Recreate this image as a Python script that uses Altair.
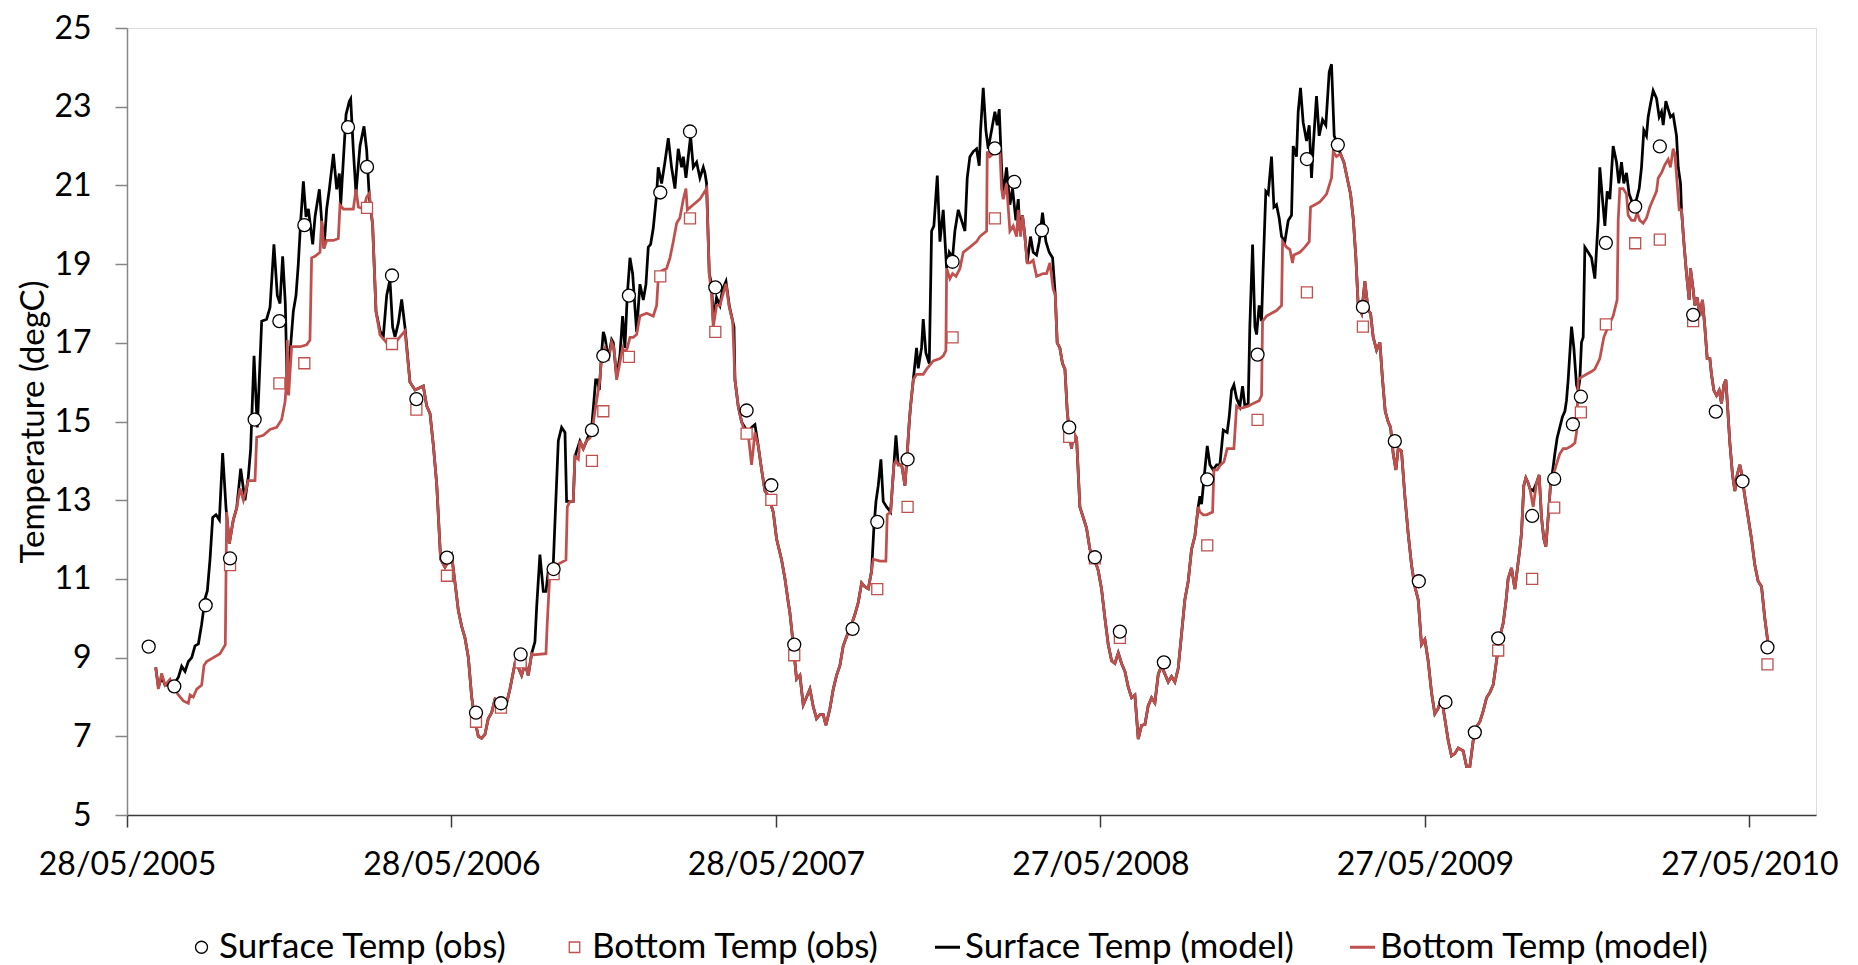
import altair as alt
import pandas as pd

SERIES = ["Surface Temp (obs)", "Bottom Temp (obs)", "Surface Temp (model)", "Bottom Temp (model)"]
COLORS = ["#000000", "#C0504D", "#000000", "#C0504D"]
SHAPES = ["circle", "square", "stroke", "stroke"]
LEGEND_SIZES = [144, 110, 625, 625]
LEGEND_STROKES = [1.3, 1.3, 3, 3]

X_TICK_DAYS = [0, 365, 730, 1095, 1460, 1825]
X_TICK_LABELS = ["28/05/2005", "28/05/2006", "28/05/2007", "27/05/2008", "27/05/2009", "27/05/2010"]
Y_TICKS = [5, 7, 9, 11, 13, 15, 17, 19, 21, 23, 25]

# x values are days after 28/05/2005, y values are degC

# ---- model segments where surface and bottom traces differ ----
surf_y1 = [(32.3, 8.75), (35.3, 8.25), (39.0, 8.5), (42.8, 8.3), (52.1, 8.3), (57.8, 8.5), (61.5, 8.78),
           (65.3, 8.65), (69.0, 8.9), (72.8, 9.0), (76.5, 9.3), (80.3, 9.35), (84.0, 9.85), (87.8, 10.5),
           (90.4, 10.7), (93.4, 11.5), (96.4, 12.56), (100.1, 12.63), (103.9, 12.5), (107.6, 14.2),
           (111.4, 12.8), (115.1, 11.9), (119.6, 12.5), (123.4, 12.8), (127.9, 13.8), (132.7, 13.0),
           (136.5, 13.6), (139.1, 14.3), (142.9, 16.67), (146.6, 14.85), (151.5, 17.55), (157.1, 17.6),
           (160.9, 17.9), (165.3, 19.5), (169.1, 18.2), (172.1, 18.0), (175.1, 19.2), (178.1, 18.0),
           (180.3, 15.7), (183.3, 16.7), (187.1, 17.8), (190.1, 18.2), (192.7, 19.0), (195.4, 20.1),
           (198.4, 21.1), (201.4, 20.2), (204.0, 20.4), (208.9, 19.5), (211.5, 20.2), (216.4, 20.9),
           (219.0, 20.1), (221.6, 19.4), (224.6, 20.4), (227.6, 20.9), (232.2, 21.8), (235.9, 20.9),
           (238.9, 21.3), (240.4, 20.5), (246.4, 22.8), (250.1, 23.14), (251.6, 23.2), (254.6, 21.9),
           (257.6, 20.8), (262.1, 22.0), (266.6, 22.5), (269.6, 21.9), (272.6, 20.7), (276.3, 20.0),
           (280.1, 17.8), (284.6, 17.3), (288.3, 17.15), (292.1, 18.2), (295.8, 18.6), (298.8, 17.4),
           (301.5, 17.15), (305.2, 17.5), (309.0, 18.1), (312.7, 17.4)]
bott_y1 = [(32.3, 8.75), (35.3, 8.2), (39.0, 8.6), (42.8, 8.3), (48.4, 8.45), (52.1, 8.25), (57.8, 8.05),
           (63.4, 7.9), (69.0, 7.84), (70.9, 8.05), (74.6, 8.0), (78.4, 8.2), (84.0, 8.3), (86.6, 8.8),
           (89.6, 8.9), (97.1, 9.0), (104.6, 9.1), (110.6, 9.33), (112.1, 12.7), (115.1, 11.9),
           (119.6, 12.5), (123.4, 12.8), (127.1, 13.3), (130.9, 13.0), (136.5, 13.5), (144.0, 13.5),
           (145.9, 14.6), (153.4, 14.65), (160.9, 14.8), (168.4, 14.85), (174.0, 15.05), (177.8, 15.5),
           (179.6, 16.06), (180.3, 17.07), (181.8, 15.66), (185.2, 16.9), (194.6, 16.9), (202.1, 16.95),
           (205.8, 17.07), (207.7, 19.16), (211.5, 19.2), (217.1, 19.3), (219.0, 20.1), (221.6, 19.4),
           (224.6, 19.6), (232.2, 19.6), (237.7, 19.65), (239.6, 20.5), (243.4, 20.4), (250.9, 20.4),
           (254.6, 20.4), (257.6, 20.9), (260.3, 20.45), (266.0, 20.4), (269.6, 20.7), (272.6, 20.8),
           (276.3, 20.0), (280.1, 17.8), (284.6, 17.2), (292.1, 17.0), (298.8, 16.9), (305.2, 17.1),
           (309.0, 17.2), (312.7, 17.3)]

surf_y2 = [(458.9, 9.4), (460.8, 10.27), (464.5, 11.62), (468.3, 10.68), (471.3, 10.68), (473.9, 11.21),
           (479.5, 11.35), (481.4, 12.43), (485.2, 14.51), (488.9, 14.85), (492.7, 14.72), (494.5, 12.97),
           (498.3, 12.97), (502.0, 12.97), (503.9, 14.11), (509.5, 14.5), (513.3, 14.31), (517.0, 14.51),
           (522.7, 14.85), (525.3, 15.53), (527.2, 16.06), (529.0, 16.06), (531.3, 15.8), (533.9, 16.74),
           (535.8, 17.28), (537.7, 17.14), (541.4, 16.6), (545.2, 17.08), (547.0, 17.01), (550.8, 16.13),
           (554.5, 16.67), (557.5, 17.68), (560.1, 16.87), (562.8, 18.22), (565.8, 19.16), (568.8, 18.76),
           (573.3, 17.28), (577.0, 18.49), (580.8, 18.09), (583.8, 18.49), (586.4, 19.43), (589.0, 19.5),
           (592.0, 19.91), (595.8, 20.78), (597.6, 21.46), (601.4, 21.05), (605.1, 21.59), (608.9, 22.2),
           (612.6, 21.46), (616.4, 20.92), (620.1, 21.93), (623.9, 21.46), (625.8, 21.73), (628.8, 21.19),
           (631.4, 21.73), (634.0, 22.26), (637.0, 21.46), (640.8, 21.59), (644.5, 21.19), (648.3, 21.46),
           (650.1, 21.32), (652.0, 21.05), (655.0, 18.76), (657.6, 18.49), (659.5, 17.55), (663.2, 18.15),
           (667.0, 17.95), (670.0, 18.36), (673.8, 18.56), (677.5, 17.95), (681.3, 17.55), (682.8, 17.41),
           (683.9, 16.06), (687.6, 15.39), (691.4, 14.99), (695.1, 14.85), (698.9, 14.72), (702.6, 14.85),
           (706.4, 14.92), (710.1, 14.38)]
bott_y2 = [(457.0, 9.07), (471.3, 9.1), (472.8, 9.9), (475.8, 11.2), (483.3, 11.35), (493.8, 11.48),
           (495.3, 12.83), (498.3, 12.97), (502.0, 12.97), (503.9, 14.11), (507.7, 14.04), (509.5, 14.51),
           (513.3, 14.31), (517.0, 14.51), (520.8, 14.58), (523.8, 14.85), (526.4, 15.26), (528.3, 15.53),
           (532.0, 16.06), (533.9, 16.67), (537.7, 16.87), (541.4, 16.54), (545.2, 17.01), (547.8, 16.87),
           (550.8, 16.06), (554.5, 16.5), (557.5, 16.87), (560.1, 16.74), (562.8, 16.87), (565.8, 17.14),
           (569.5, 17.14), (573.3, 17.21), (577.0, 17.68), (584.5, 17.75), (592.0, 17.68), (595.8, 17.95),
           (597.6, 18.63), (601.4, 18.83), (607.0, 18.89), (610.8, 19.16), (614.5, 19.57), (618.3, 20.04),
           (622.0, 20.18), (625.8, 20.65), (628.8, 20.92), (630.3, 20.38), (637.0, 20.51), (644.5, 20.65),
           (650.1, 20.85), (652.0, 20.92), (655.0, 18.76), (657.6, 18.2), (659.5, 17.4), (663.2, 17.95),
           (667.0, 17.95), (670.0, 18.2), (673.8, 18.5), (677.5, 17.9), (681.3, 17.55), (683.9, 16.06),
           (687.6, 15.39), (691.4, 14.99), (695.1, 14.72), (698.9, 14.65), (702.6, 13.9), (706.4, 14.72),
           (710.1, 14.38)]

surf_y3 = [(840.2, 12.3), (842.5, 12.96), (845.1, 13.37), (848.1, 14.04), (850.7, 12.97), (854.5, 12.83),
           (859.0, 12.7), (862.7, 13.9), (865.0, 14.65), (867.6, 13.9), (871.4, 13.9), (875.1, 13.37),
           (877.0, 13.95), (880.0, 14.99), (881.5, 15.4), (884.5, 16.06), (888.2, 16.87), (890.1, 16.35),
           (893.8, 16.87), (895.7, 17.6), (898.7, 16.74), (902.5, 16.47), (905.1, 19.84), (907.7, 19.97),
           (911.5, 21.25), (914.5, 19.57), (918.2, 20.38), (922.0, 18.89), (925.0, 19.3), (928.7, 19.16),
           (931.3, 19.84), (935.1, 20.38), (938.8, 20.11), (942.6, 19.84), (945.2, 21.19), (948.2, 21.73),
           (951.9, 21.86), (955.7, 21.93), (958.7, 21.5), (960.2, 22.4), (963.2, 23.48), (966.2, 22.4),
           (968.8, 21.93), (972.6, 22.4), (976.3, 22.87), (978.9, 22.53), (981.2, 22.94), (983.8, 21.46),
           (985.7, 20.71), (989.4, 21.46), (993.2, 20.51), (996.2, 20.92), (999.9, 20.11), (1002.6, 20.65),
           (1004.4, 19.84), (1007.4, 20.24), (1010.1, 19.7), (1012.7, 19.03), (1016.4, 19.7), (1019.4, 19.3),
           (1023.2, 19.23), (1026.2, 19.57), (1029.9, 20.31), (1033.7, 19.57), (1037.4, 19.3),
           (1041.2, 19.16)]
bott_y3 = [(839.5, 11.5), (847.0, 11.45), (853.7, 11.45), (855.2, 12.63), (859.0, 12.7), (862.7, 13.9),
           (865.0, 14.0), (867.6, 13.9), (871.4, 13.9), (875.1, 13.37), (877.0, 13.95), (880.0, 14.99),
           (881.5, 15.4), (884.5, 16.06), (888.2, 16.2), (895.7, 16.2), (899.5, 16.33), (907.0, 16.54),
           (914.5, 16.6), (918.2, 16.67), (921.2, 16.8), (922.0, 18.89), (925.7, 18.63), (928.7, 18.76),
           (932.5, 18.69), (937.0, 18.89), (940.7, 19.3), (948.2, 19.43), (955.7, 19.57), (959.4, 19.7),
           (963.2, 19.77), (967.0, 19.84), (967.7, 21.86), (970.7, 21.73), (974.4, 21.8), (980.1, 21.86),
           (981.9, 21.93), (983.8, 20.92), (985.7, 20.65), (989.4, 21.05), (993.2, 19.84), (996.9, 19.97),
           (1000.7, 19.7), (1002.6, 20.38), (1005.2, 19.7), (1007.4, 20.24), (1010.1, 19.7), (1012.7, 19.03),
           (1015.7, 19.03), (1019.4, 19.1), (1023.2, 18.69), (1030.7, 18.76), (1034.4, 18.76),
           (1038.2, 19.03), (1041.9, 18.36)]

surf_y4 = [(1206.9, 13.1), (1208.8, 12.9), (1212.5, 13.77), (1215.2, 14.38), (1218.2, 13.9), (1221.9, 13.77),
           (1225.7, 13.9), (1229.4, 13.9), (1233.2, 14.78), (1237.6, 14.72), (1239.9, 15.12), (1242.5, 15.79),
           (1245.2, 15.93), (1248.2, 15.59), (1251.9, 15.39), (1254.9, 15.9), (1257.5, 15.39), (1261.3, 15.46),
           (1263.1, 17.41), (1266.2, 19.5), (1268.8, 17.41), (1270.7, 17.21), (1273.6, 17.95), (1276.3, 17.55),
           (1278.1, 18.89), (1281.1, 20.85), (1283.8, 20.78), (1287.5, 21.73), (1290.2, 20.45), (1293.1, 20.51),
           (1296.1, 20.17), (1298.8, 19.7), (1302.5, 19.57), (1306.3, 20.11), (1310.0, 20.24), (1311.9, 22.0),
           (1315.6, 21.73), (1317.5, 22.87), (1320.1, 23.48), (1323.1, 22.6), (1326.9, 22.13), (1329.9, 22.53),
           (1332.5, 21.19), (1334.4, 21.99), (1338.1, 23.27), (1341.1, 22.26), (1344.9, 22.67), (1348.6, 22.53),
           (1352.4, 23.88), (1355.0, 24.08), (1358.0, 22.26), (1361.4, 22.06), (1365.1, 21.8)]
bott_y4 = [(1206.9, 12.7), (1210.7, 12.63), (1214.4, 12.63), (1221.2, 12.7), (1222.7, 13.77), (1226.4, 13.77),
           (1230.2, 13.9), (1233.9, 13.97), (1237.6, 14.31), (1245.2, 14.31), (1248.2, 15.39), (1251.9, 15.33),
           (1261.3, 15.39), (1266.9, 15.46), (1273.6, 15.53), (1276.3, 15.66), (1277.4, 17.55), (1281.9, 17.68),
           (1287.5, 17.75), (1293.1, 17.82), (1298.8, 17.95), (1299.9, 19.57), (1304.4, 19.43), (1308.2, 19.37),
           (1311.1, 19.03), (1312.6, 19.23), (1319.4, 19.3), (1325.0, 19.43), (1329.9, 19.57), (1331.4, 20.45),
           (1336.3, 20.51), (1341.9, 20.58), (1349.4, 20.78), (1355.0, 21.19), (1356.9, 21.86), (1360.6, 21.73),
           (1365.1, 21.8)]

surf_y5a = [(1581.9, 13.24)]
bott_y5a = [(1581.9, 12.83)]

surf_y5b = [(1604.3, 13.84), (1606.2, 14.18), (1608.8, 14.58), (1611.8, 14.85), (1614.8, 15.12), (1617.5, 15.26),
            (1619.3, 15.53), (1621.2, 16.06), (1625.0, 17.41), (1627.6, 16.87), (1630.6, 15.93), (1632.5, 15.79),
            (1634.3, 16.06), (1636.2, 17.01), (1638.1, 17.14), (1640.0, 19.43), (1643.7, 19.3), (1647.5, 19.16),
            (1651.2, 18.63), (1655.0, 20.11), (1656.8, 21.46), (1659.8, 20.65), (1662.5, 19.97), (1665.1, 20.85),
            (1668.1, 20.65), (1671.8, 22.0), (1675.6, 21.59), (1678.2, 21.05), (1681.2, 21.59), (1683.8, 21.05),
            (1686.8, 21.32), (1689.8, 20.78), (1694.3, 20.51), (1698.1, 20.65), (1701.1, 20.92), (1703.7, 21.46),
            (1706.3, 22.4), (1709.3, 22.26), (1711.2, 22.74), (1713.8, 23.07), (1716.8, 23.41), (1720.6, 23.21),
            (1723.6, 22.74), (1726.2, 22.87), (1728.1, 22.53), (1731.1, 23.14), (1733.7, 22.94), (1736.3, 22.74),
            (1739.3, 22.8), (1741.2, 22.53), (1743.1, 22.26), (1745.0, 21.46), (1747.6, 21.05), (1748.7, 20.38)]
bott_y5b = [(1604.3, 13.64), (1606.2, 13.77), (1608.8, 13.97), (1611.8, 14.18), (1615.6, 14.31), (1619.3, 14.31),
            (1625.0, 14.38), (1628.7, 14.45), (1630.6, 14.72), (1632.5, 16.06), (1636.2, 16.13), (1641.8, 16.2),
            (1647.5, 16.27), (1651.2, 16.33), (1656.8, 16.6), (1661.3, 17.14), (1666.2, 17.41), (1671.8, 17.68),
            (1676.3, 18.09), (1677.5, 20.11), (1679.3, 20.92), (1683.1, 20.92), (1686.8, 20.78), (1688.7, 20.24),
            (1692.5, 20.11), (1696.2, 20.11), (1698.8, 20.31), (1701.8, 20.11), (1705.6, 20.04), (1709.3, 20.17),
            (1713.1, 20.45), (1716.8, 20.65), (1720.6, 20.85), (1722.5, 21.19), (1726.2, 21.32), (1729.9, 21.52),
            (1733.7, 21.66), (1736.3, 21.46), (1739.3, 21.93), (1741.2, 21.8), (1743.8, 21.05), (1746.1, 20.38),
            (1748.7, 20.38)]

# ---- model segments where surface and bottom traces coincide ----
common_1 = [(318.3, 16.0), (324.0, 15.8), (333.3, 15.9), (337.1, 15.4), (340.9, 15.2), (344.6, 14.4),
            (348.4, 13.4), (352.8, 11.5), (357.7, 11.3), (365.2, 11.6), (369.0, 10.9), (372.7, 10.2),
            (376.4, 9.8), (380.2, 9.5), (384.0, 9.0), (387.7, 8.0), (391.4, 7.4), (395.2, 7.0), (398.9, 6.95),
            (402.7, 7.05), (406.4, 7.45), (410.2, 7.6), (414.0, 7.95), (417.7, 7.9), (423.3, 7.8), (427.1, 7.85),
            (430.8, 8.2), (436.4, 8.85), (440.2, 8.75), (443.9, 8.55), (447.7, 8.85), (451.4, 8.55),
            (455.2, 9.1)]
common_2 = [(713.9, 13.77), (717.6, 13.24), (721.4, 13.10), (727.0, 12.70), (730.7, 12.02), (736.4, 11.48),
            (740.1, 11.01), (743.9, 10.40), (745.7, 10.14), (749.5, 9.33), (753.2, 8.45), (757.0, 8.55),
            (760.7, 7.8), (764.5, 8.0), (768.2, 8.2), (772.0, 7.75), (775.7, 7.45), (779.5, 7.55), (783.2, 7.55),
            (786.2, 7.28), (790.7, 7.7), (794.5, 8.2), (798.2, 8.55), (802.0, 8.8), (805.7, 9.3), (811.4, 9.65),
            (815.1, 9.85), (818.9, 10.1), (822.6, 10.4), (826.4, 10.9), (830.1, 10.8), (833.9, 10.75),
            (837.6, 11.2)]
common_3 = [(1044.2, 18.22), (1046.4, 17.0), (1049.4, 16.87), (1052.4, 16.47), (1055.1, 16.33), (1057.7, 15.26),
            (1060.7, 14.58), (1062.6, 14.31), (1064.4, 14.72), (1068.2, 14.58), (1071.9, 12.83), (1075.7, 12.56),
            (1079.4, 12.29), (1083.2, 11.75), (1088.8, 11.48), (1092.6, 11.21), (1096.3, 10.74), (1100.1, 10.0),
            (1103.8, 9.33), (1107.6, 8.92), (1111.3, 8.85), (1115.1, 9.12), (1118.8, 8.85), (1122.6, 8.65),
            (1126.3, 8.25), (1130.1, 7.98), (1133.8, 8.05), (1137.6, 6.93), (1141.3, 7.28), (1145.1, 7.3),
            (1148.8, 7.78), (1152.6, 7.98), (1156.3, 7.85), (1160.1, 8.58), (1163.8, 8.79), (1167.6, 8.58),
            (1171.3, 8.38), (1175.0, 8.52), (1178.8, 8.38), (1182.5, 8.72), (1186.3, 9.6), (1190.0, 10.47),
            (1193.8, 10.94), (1197.5, 11.75), (1201.3, 12.09), (1205.0, 12.83)]
common_4 = [(1368.9, 21.59), (1372.6, 21.19), (1376.4, 20.78), (1379.4, 20.17), (1382.4, 19.16), (1385.0, 17.95),
            (1388.8, 17.75), (1392.5, 18.56), (1396.3, 17.82), (1398.9, 17.75), (1401.9, 17.14), (1405.7, 16.81),
            (1409.4, 17.01), (1412.4, 16.06), (1415.4, 15.26), (1418.7, 14.99), (1421.4, 14.85), (1424.4, 14.18),
            (1427.4, 13.77), (1430.0, 14.31), (1433.7, 14.25), (1437.5, 13.10), (1441.2, 12.16), (1445.0, 11.35),
            (1448.7, 10.81), (1452.5, 10.47), (1456.2, 9.33), (1460.0, 9.46), (1463.7, 8.92), (1467.5, 8.11),
            (1471.2, 7.57), (1475.0, 7.71), (1478.7, 7.98), (1482.5, 7.44), (1486.2, 6.9), (1490.0, 6.5),
            (1493.7, 6.56), (1497.5, 6.7), (1503.1, 6.63), (1506.9, 6.23), (1510.6, 6.23), (1514.4, 6.90),
            (1518.1, 7.24), (1521.9, 7.37), (1525.6, 7.64), (1529.4, 7.98), (1533.1, 8.11), (1536.9, 8.31),
            (1540.6, 8.92), (1544.4, 9.53), (1548.1, 9.87), (1551.1, 10.40), (1553.7, 11.01), (1557.5, 11.28),
            (1561.2, 10.74), (1563.8, 11.21), (1566.8, 11.75), (1568.7, 12.16), (1571.3, 13.37), (1573.6, 13.57),
            (1576.2, 13.44), (1578.1, 13.3)]
common_5 = [(1585.6, 13.44), (1588.6, 13.64), (1591.2, 12.56), (1593.8, 12.02), (1596.1, 11.82), (1598.7, 12.56),
            (1601.3, 13.37)]
common_6 = [(1751.3, 19.57), (1754.3, 18.76), (1757.3, 18.09), (1758.8, 18.89), (1761.8, 18.36), (1763.7, 17.95),
            (1766.3, 18.15), (1769.3, 17.68), (1772.3, 18.09), (1774.9, 17.41), (1777.6, 16.6), (1780.6, 16.6),
            (1782.4, 16.2), (1785.1, 15.79), (1788.1, 15.66), (1791.1, 15.79), (1793.7, 15.46), (1796.3, 15.93),
            (1798.6, 16.06), (1800.1, 15.53), (1803.1, 14.45), (1806.1, 13.64), (1808.7, 13.23), (1811.3, 13.64),
            (1814.3, 13.9), (1816.2, 13.7), (1819.9, 13.1), (1823.7, 12.56), (1827.4, 12.02), (1831.2, 11.35),
            (1834.9, 10.94), (1838.7, 10.81), (1842.4, 10.0), (1846.2, 9.33)]

# ---- observations ----
surf_obs_day = [24.4, 53.2, 88.5, 115.9, 143.6, 171.4, 199.5, 248.6, 270.0, 298.1, 325.5, 359.9,
                392.6, 420.7, 442.8, 479.9, 523.0, 535.8, 564.6, 599.9, 633.3, 661.8, 697.0, 724.8,
                750.6, 816.2, 844.0, 878.1, 928.7, 976.3, 998.1, 1029.2, 1059.9, 1088.8, 1116.9,
                1166.4, 1215.2, 1271.8, 1327.3, 1362.1, 1390.3, 1426.2, 1453.2, 1483.2, 1516.2,
                1542.5, 1580.7, 1605.5, 1626.5, 1635.5, 1663.6, 1696.6, 1724.3, 1761.8, 1787.3,
                1817.3, 1845.4]
surf_obs_temp = [9.28, 8.27, 10.33, 11.52, 15.05, 17.55, 19.99, 22.48, 21.47, 18.71, 15.57, 11.54,
                 7.60, 7.84, 9.08, 11.25, 14.78, 16.67, 18.20, 20.82, 22.37, 18.41, 15.28, 13.38,
                 9.33, 9.73, 12.45, 14.04, 19.06, 21.94, 21.09, 19.86, 14.85, 11.55, 9.66,
                 8.88, 13.53, 16.70, 21.67, 22.03, 17.91, 14.50, 10.94, 7.87, 7.10,
                 9.49, 12.60, 13.54, 14.93, 15.63, 19.54, 20.46, 21.99, 17.71, 15.25,
                 13.48, 9.26]
bott_obs_day = [115.9, 171.4, 199.5, 270.0, 298.1, 325.5, 359.9, 392.6, 420.7, 442.8, 479.9, 523.0,
                535.8, 564.6, 599.9, 633.3, 661.8, 697.0, 724.8, 750.6, 844.0, 878.1, 928.7, 976.3,
                1059.9, 1088.8, 1116.9, 1215.2, 1271.8, 1327.3, 1390.3, 1542.5, 1580.7, 1605.5,
                1635.5, 1663.6, 1696.6, 1724.3, 1761.8, 1845.4]
bott_obs_temp = [11.35, 15.97, 16.48, 20.43, 16.97, 15.30, 11.08, 7.37, 7.73, 8.88, 11.12, 14.00,
                 15.26, 16.64, 18.69, 20.16, 17.28, 14.69, 13.01, 9.06, 10.74, 12.83, 17.14, 20.16,
                 14.61, 11.52, 9.50, 11.85, 15.04, 18.28, 17.41, 9.18, 11.00, 12.81,
                 15.23, 17.47, 19.53, 19.62, 17.55, 8.83]

surface_model = (surf_y1 + common_1 + surf_y2 + common_2 + surf_y3 + common_3 + surf_y4 + common_4
                 + surf_y5a + common_5 + surf_y5b + common_6)
bottom_model = (bott_y1 + common_1 + bott_y2 + common_2 + bott_y3 + common_3 + bott_y4 + common_4
                + bott_y5a + common_5 + bott_y5b + common_6)


def frame(pairs, name):
    df = pd.DataFrame(pairs, columns=["day", "temp"])
    df["series"] = name
    return df


model_df = pd.concat([frame(surface_model, SERIES[2]), frame(bottom_model, SERIES[3])], ignore_index=True)
obs_df = pd.concat([
    pd.DataFrame({"day": surf_obs_day, "temp": surf_obs_temp, "series": SERIES[0]}),
    pd.DataFrame({"day": bott_obs_day, "temp": bott_obs_temp, "series": SERIES[1]}),
], ignore_index=True)

label_expr = " : ".join(f"datum.value == {d} ? '{l}'" for d, l in zip(X_TICK_DAYS, X_TICK_LABELS)) + " : ''"


def per_entry(values):
    parts = [f"datum.value == '{s}' ? {v}" for s, v in zip(SERIES, values)]
    return "(" + " : ".join(parts) + f" : {values[-1]})"


FONT = "Lato"

x_enc = alt.X("day:Q",
              scale=alt.Scale(domain=[0, 1900], nice=False, zero=False),
              axis=alt.Axis(values=X_TICK_DAYS, labelExpr=label_expr, title=None, grid=False,
                            tickSize=12, labelPadding=22, domainColor="#3a3a3a", tickColor="#3a3a3a",
                            domainWidth=1.5, tickWidth=1.5, labelFontSize=32, labelColor="black",
                            labelFont=FONT, labelFlush=False, labelOverlap=False))
y_enc = alt.Y("temp:Q",
              scale=alt.Scale(domain=[5, 25], nice=False, zero=False),
              axis=alt.Axis(values=Y_TICKS, title="Temperature (degC)", grid=False,
                            tickSize=12, labelPadding=24, domainColor="#868686", tickColor="#868686",
                            domainWidth=1.5, tickWidth=1.5, labelFontSize=32, labelColor="black",
                            labelFont=FONT, titleFont=FONT, titleFontSize=33, titleFontWeight="normal",
                            titleColor="black", titlePadding=3, labelOverlap=False))

legend = alt.Legend(title=None, orient="none", legendX=54, legendY=901.5, direction="horizontal",
                    labelFontSize=35, labelFont=FONT, labelColor="black", columnPadding=47,
                    labelOffset=0, symbolOffset=3, labelLimit=0, symbolFillColor="white",
                    symbolSize=alt.ExprRef(expr=per_entry(LEGEND_SIZES)),
                    symbolStrokeWidth=alt.ExprRef(expr=per_entry(LEGEND_STROKES)))

color_enc = alt.Color("series:N", scale=alt.Scale(domain=SERIES, range=COLORS), legend=legend)
shape_enc = alt.Shape("series:N", scale=alt.Scale(domain=SERIES, range=SHAPES), legend=legend)

model_base = alt.Chart(model_df)
obs_base = alt.Chart(obs_df)

surf_line = model_base.transform_filter(alt.datum.series == SERIES[2]).mark_line(
    strokeWidth=2.75).encode(x=x_enc, y=y_enc, color=color_enc)
bott_line = model_base.transform_filter(alt.datum.series == SERIES[3]).mark_line(
    strokeWidth=2.75).encode(x=x_enc, y=y_enc, color=color_enc)
bott_pts = obs_base.transform_filter(alt.datum.series == SERIES[1]).mark_point(
    filled=False, fill="white", strokeWidth=1.3, opacity=1, size=121).encode(
    x=x_enc, y=y_enc, color=color_enc, shape=shape_enc)
surf_pts = obs_base.transform_filter(alt.datum.series == SERIES[0]).mark_point(
    filled=False, fill="white", strokeWidth=1.3, opacity=1, size=169).encode(
    x=x_enc, y=y_enc, color=color_enc, shape=shape_enc)

chart = alt.layer(surf_line, bott_line, bott_pts, surf_pts).properties(
    width=1689, height=787,
    autosize=alt.AutoSizeParams(type="none"),
    padding={"left": 119, "top": 20, "right": 30, "bottom": 150},
).configure_view(stroke=None).configure(font=FONT)

chart.save("out.html", embed_options={"renderer": "svg", "actions": False})
